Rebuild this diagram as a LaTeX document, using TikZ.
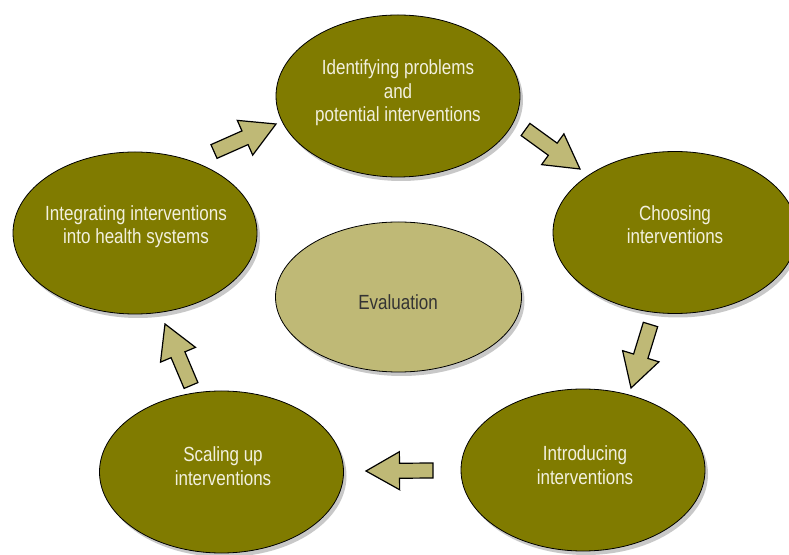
\documentclass[tikz,border=0pt]{standalone}
\usepackage{fontspec}
\setmainfont{Liberation Sans}[FakeStretch=0.83]
\usetikzlibrary{shapes.geometric,shadows,calc}

\definecolor{olivefill}{RGB}{128,123,0}
\definecolor{tanfill}{RGB}{191,185,118}
\definecolor{stagetext}{RGB}{242,240,222}
\definecolor{shadowgray}{RGB}{200,200,200}

\tikzset{
  stage/.style={ellipse, draw=black, line width=0.8pt, fill=olivefill,
    inner sep=0pt, minimum width=244pt, minimum height=162pt,
    drop shadow={shadow xshift=3pt, shadow yshift=-4pt, fill=shadowgray, opacity=1}},
  core/.style={stage, fill=tanfill, minimum width=246pt, minimum height=150pt},
  stagelabel/.style={text=stagetext, align=center, inner sep=0pt,
    font=\fontsize{20.5}{23.5}\selectfont, anchor=base},
  corelabel/.style={stagelabel, text=black!80},
  flow/.style={draw=black, line width=1.2pt, fill=tanfill, line join=miter},
}

% block arrow from a tail coordinate to a tip coordinate
\newcommand\blockarrow[3]{%
  \coordinate (#1-neck) at ($(#2)!0.5!(#3)$);
  \draw[flow] ($(#2)!7.5pt!90:(#3)$) -- ($(#1-neck)!7.5pt!90:(#3)$)
    -- ($(#1-neck)!19pt!90:(#3)$) -- (#3)
    -- ($(#1-neck)!19pt!-90:(#3)$) -- ($(#1-neck)!7.5pt!-90:(#3)$)
    -- ($(#2)!7.5pt!-90:(#3)$) -- cycle;
}

\begin{document}
\begin{tikzpicture}[x=1pt,y=1pt]
  \useasboundingbox (0,0) rectangle (789,554);

  % the five stages and the central evaluation
  \node[stage] (ident) at (398,458) {};
  \node[stage] (choose) at (675,321.5) {};
  \node[stage] (integ) at (135,321) {};
  \node[stage] (scale) at (221.5,82) {};
  \node[stage] (intro) at (583,84) {};
  \node[core] (eval) at (398.5,257) {};

  % labels, placed by the baseline of their last line
  \node[stagelabel] (identtext) at (398,432) {Identifying problems\\and\\potential interventions};
  \node[stagelabel] (choosetext) at (675,310) {Choosing\\interventions};
  \node[stagelabel] (integtext) at (136,310) {Integrating interventions\\into health systems};
  \node[stagelabel] (scaletext) at (223,69) {Scaling up\\interventions};
  \node[stagelabel] (introtext) at (585,70) {Introducing\\interventions};
  \node[corelabel] (evaltext) at (398,244) {Evaluation};

  % block arrows between the stages
  \coordinate (a1-tail) at (214,402.5);  \coordinate (a1-tip) at (276,430);
  \coordinate (a2-tail) at (525.5,424.5); \coordinate (a2-tip) at (580,385);
  \coordinate (a3-tail) at (650.5,229.5); \coordinate (a3-tip) at (631,166);
  \coordinate (a4-tail) at (433,83.5);   \coordinate (a4-tip) at (366,83);
  \coordinate (a5-tail) at (191,168.5);  \coordinate (a5-tip) at (165,230);

  \blockarrow{a1}{a1-tail}{a1-tip}
  \blockarrow{a2}{a2-tail}{a2-tip}
  \blockarrow{a3}{a3-tail}{a3-tip}
  \blockarrow{a4}{a4-tail}{a4-tip}
  \blockarrow{a5}{a5-tail}{a5-tip}
\end{tikzpicture}
\end{document}
